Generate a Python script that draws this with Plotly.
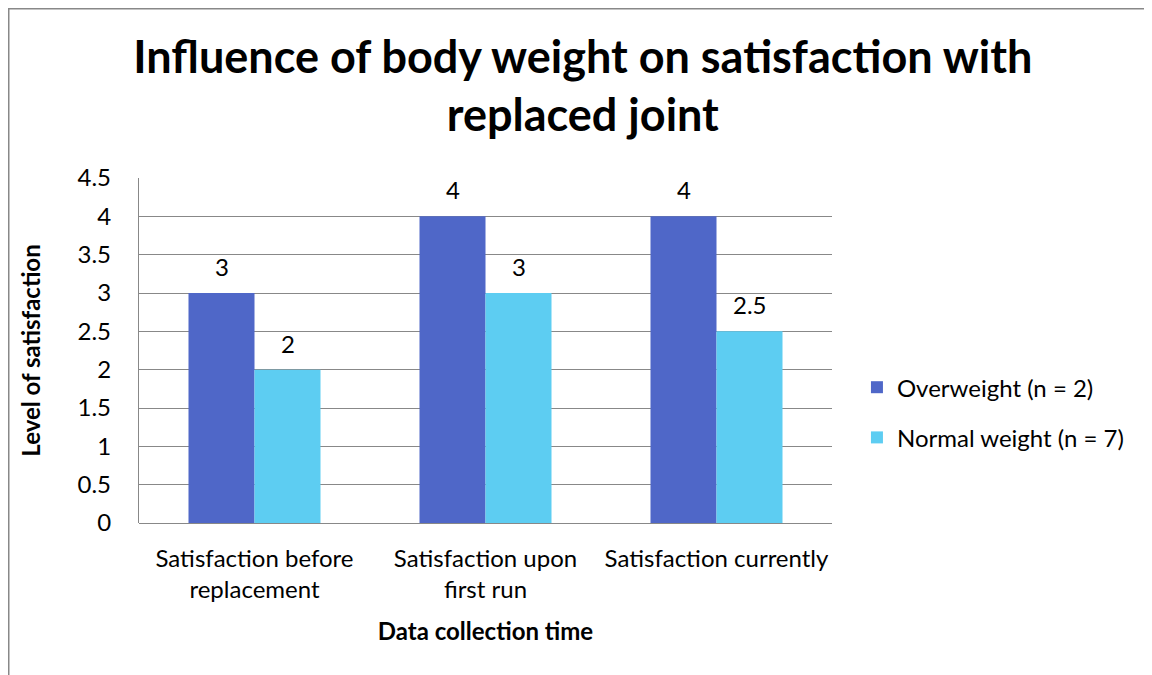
import plotly.graph_objects as go

categories = ["Satisfaction before<br>replacement", "Satisfaction upon<br>first run", "Satisfaction currently"]
overweight = [3, 4, 4]
normal = [2, 3, 2.5]
series_names = ["Overweight (n = 2)", "Normal weight (n = 7)"]
colors = ["#4F67C8", "#5DCDF2"]
y_ticks = [0, 0.5, 1, 1.5, 2, 2.5, 3, 3.5, 4, 4.5]

FONT = "Lato"
FS = 24
fig = go.Figure()
for i, (name, vals, col) in enumerate(zip(series_names, [overweight, normal], colors)):
    fig.add_trace(go.Bar(x=categories, y=vals, name=name, legendgroup=f"g{i}",
                         marker=dict(color=col, line=dict(width=0))))

annotations = []
for vals, shift in [(overweight, -33), (normal, 33)]:
    for c, v in zip(categories, vals):
        annotations.append(dict(x=c, y=v, xref="x", yref="y", text=str(v), showarrow=False,
                                xshift=shift, yanchor="bottom", yshift=10,
                                font=dict(family=FONT, size=FS, color="#000")))

fig.update_layout(
    width=1152, height=675,
    paper_bgcolor="white", plot_bgcolor="white",
    margin=dict(l=131, r=328, t=170, b=160),
    barmode="group", bargap=0.4286, bargroupgap=0,
    title=dict(text="<b>Influence of body weight on satisfaction with<br>replaced joint</b>",
               x=0.499, xanchor="center", y=0.9044, yanchor="middle",
               font=dict(family=FONT, size=45, color="#000")),
    font=dict(family=FONT, size=FS, color="#000"),
    legend=dict(x=1.036, y=0.32, xanchor="left", yanchor="middle", traceorder="grouped",
                font=dict(family=FONT, size=FS, color="#000"), tracegroupgap=16,
                itemwidth=30),
    annotations=annotations,
    showlegend=True,
)
fig.update_xaxes(showline=False, showgrid=False, ticks="", ticklabelstandoff=19,
                 tickfont=dict(family=FONT, size=FS),
                 title=dict(text="<b>Data collection time</b>", font=dict(family=FONT, size=FS), standoff=20))
fig.update_yaxes(range=[0, 4.5], tickvals=y_ticks, ticktext=[f"{t:g}" for t in y_ticks],
                 showgrid=True, gridcolor="#888", gridwidth=1.3,
                 showline=True, linecolor="#888", linewidth=1.3, zeroline=True, zerolinecolor="#888", zerolinewidth=1.3,
                 ticks="", ticklabelstandoff=22, tickfont=dict(family=FONT, size=FS),
                 title=dict(text="<b>Level of satisfaction</b>", font=dict(family=FONT, size=FS), standoff=30))

# chart border
fig.add_shape(type="rect", xref="paper", yref="paper", x0=-0.18795, x1=1.485, y0=-0.478, y1=1.49058,
              line=dict(color="#888", width=1.5), fillcolor="rgba(0,0,0,0)", layer="below")

fig.write_html("out.html")
